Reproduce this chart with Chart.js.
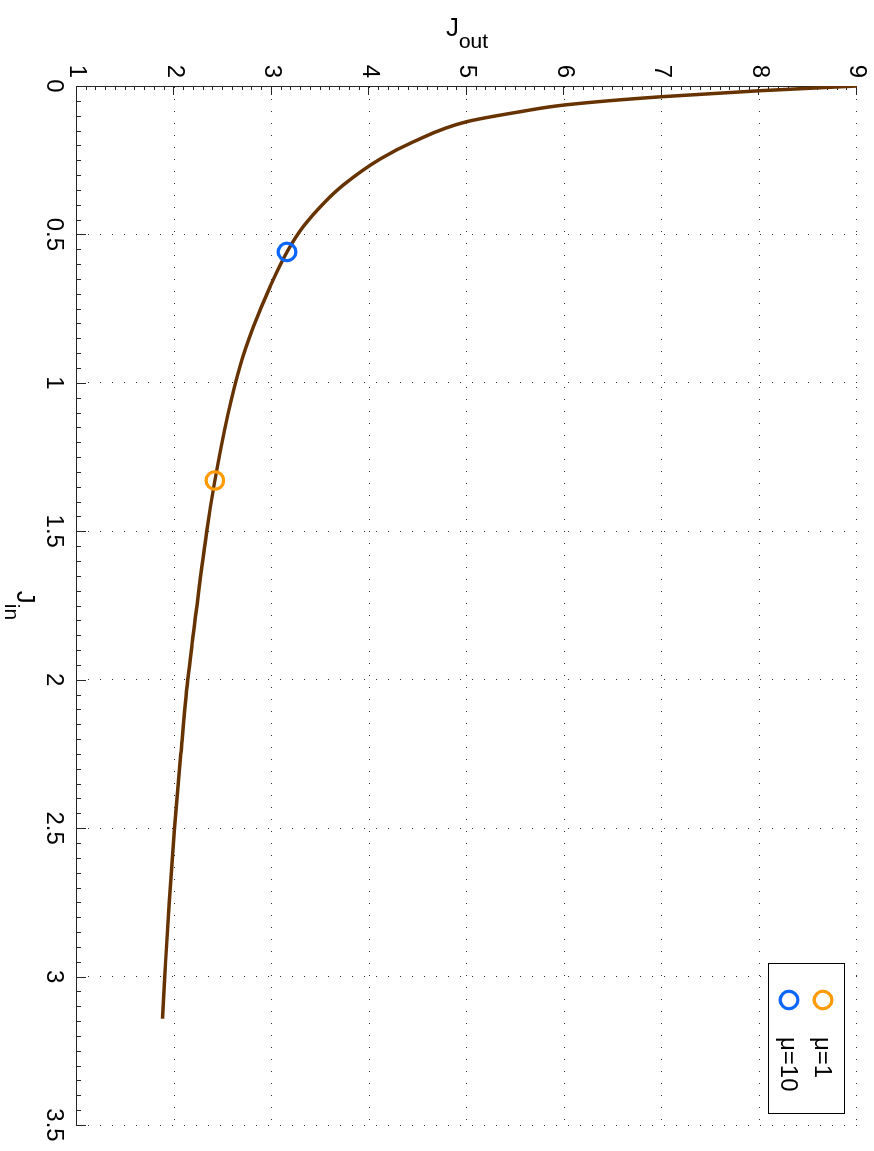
<!DOCTYPE html>
<html>
<head>
<meta charset="utf-8">
<script src="https://cdn.jsdelivr.net/npm/chart.js@4/dist/chart.umd.min.js"></script>
<style>
  html, body { margin: 0; padding: 0; background: #fff; overflow: hidden; }
  /* the figure is laid out landscape and turned a quarter turn clockwise */
  #wrap {
    position: absolute; left: 0; top: 0;
    width: 1151px; height: 874px;
    transform-origin: 0 0;
    transform: translateX(874px) rotate(90deg);
  }
  canvas { display: block; }
</style>
</head>
<body>
<div id="wrap"><canvas id="c" width="1151" height="874"></canvas></div>
<script>
// J_out as a function of J_in
const jIn  = [0, 0.016, 0.036, 0.064, 0.087, 0.12, 0.188, 0.246, 0.334, 0.395, 0.474, 0.559, 0.676, 0.811, 0.946, 1.103, 1.329, 1.5, 1.867, 2.0, 2.25, 2.5, 2.75, 3.0, 3.142];
const jOut = [9, 8.0, 7.0, 6.0, 5.54, 5.0, 4.45, 4.11, 3.73, 3.53, 3.32, 3.154, 2.98, 2.81, 2.67, 2.55, 2.414, 2.33, 2.185, 2.136, 2.065, 2.0, 1.945, 1.9, 1.876];

// operating points for two values of mu
const markerLabels = ['\u03bc=1', '\u03bc=10'];
const markerJin    = [1.329, 0.559];
const markerJout   = [2.414, 3.154];
const markerColors = ['#ff9a00', '#0a66ff'];

// axis ticks
const jInTicks  = [0, 0.5, 1, 1.5, 2, 2.5, 3, 3.5];
const jOutTicks = [1, 2, 3, 4, 5, 6, 7, 8, 9];

const FONT = '"Liberation Sans", Arial, Helvetica, sans-serif';
Chart.defaults.font.family = FONT;
Chart.defaults.color = '#000';

const curve = jIn.map((v, i) => ({ x: v, y: jOut[i] }));

const markerSets = markerLabels.map((lab, i) => ({
  label: lab,
  data: [{ x: markerJin[i], y: markerJout[i] }],
  showLine: false,
  pointStyle: 'circle',
  pointRadius: 8.8,
  pointHoverRadius: 8.8,
  pointBorderWidth: 3.2,
  borderColor: markerColors[i],
  backgroundColor: 'rgba(0,0,0,0)',
  order: 0
}));

// short inward tick marks on the two axis lines
const tickMarks = {
  id: 'tickMarks',
  beforeDatasetsDraw(chart) {
    const { ctx, chartArea: a, scales: { x, y } } = chart;
    ctx.save();
    ctx.strokeStyle = '#262626';
    ctx.lineWidth = 1;
    ctx.beginPath();
    for (let i = 0; i <= 70; i++) {
      const px = Math.round(x.getPixelForValue(i * 0.05)) + 0.5;
      const len = (i % 10 === 0) ? 9 : 4;
      ctx.moveTo(px, a.bottom); ctx.lineTo(px, a.bottom - len);
    }
    for (let i = 0; i <= 80; i++) {
      const py = Math.round(y.getPixelForValue(1 + i * 0.1)) + 0.5;
      const len = (i % 10 === 0) ? 9 : 4;
      ctx.moveTo(a.left, py); ctx.lineTo(a.left + len, py);
    }
    ctx.stroke();
    ctx.restore();
  }
};

function drawSubscripted(ctx, main, sub, cx, baseY) {
  const mainFont = '26px ' + FONT;
  const subFont = '21px ' + FONT;
  ctx.font = mainFont;
  const w1 = ctx.measureText(main).width;
  ctx.font = subFont;
  const w2 = ctx.measureText(sub).width;
  const x0 = cx - (w1 + w2) / 2;
  ctx.textAlign = 'left';
  ctx.textBaseline = 'alphabetic';
  ctx.font = mainFont;
  ctx.fillText(main, x0, baseY);
  ctx.font = subFont;
  ctx.fillText(sub, x0 + w1, baseY + 12);
}

// axis titles with subscripts
const axisTitles = {
  id: 'axisTitles',
  afterDraw(chart) {
    const { ctx, chartArea: a } = chart;
    ctx.save();
    ctx.fillStyle = '#000';
    drawSubscripted(ctx, 'J', 'in', (a.left + a.right) / 2, 857);
    ctx.translate(36, (a.top + a.bottom) / 2);
    ctx.rotate(-Math.PI / 2);
    drawSubscripted(ctx, 'J', 'out', 0, 0);
    ctx.restore();
  }
};

// boxed legend in the upper right corner of the plot
const boxLegend = {
  id: 'boxLegend',
  afterDraw(chart) {
    const { ctx, chartArea: a } = chart;
    const right = a.right - 12, top = a.top + 12;
    const w = 150, h = 76;
    const left = right - w;
    ctx.save();
    ctx.fillStyle = '#fff';
    ctx.fillRect(left, top, w, h);
    ctx.strokeStyle = '#000';
    ctx.lineWidth = 1;
    ctx.strokeRect(Math.round(left) + 0.5, Math.round(top) + 0.5, w, h);
    ctx.font = '24px ' + FONT;
    ctx.textAlign = 'left';
    ctx.textBaseline = 'middle';
    markerSets.forEach((ds, i) => {
      const cy = top + 22 + i * 34;
      ctx.beginPath();
      ctx.arc(left + 37, cy, 8.8, 0, Math.PI * 2);
      ctx.lineWidth = 3.2;
      ctx.strokeStyle = ds.borderColor;
      ctx.stroke();
      ctx.fillStyle = '#000';
      ctx.fillText(ds.label, left + 74, cy + 1);
    });
    ctx.restore();
  }
};

new Chart(document.getElementById('c'), {
  type: 'scatter',
  data: {
    datasets: [
      ...markerSets,
      {
        label: 'curve',
        data: curve,
        showLine: true,
        borderColor: '#663300',
        borderWidth: 3.5,
        pointRadius: 0,
        cubicInterpolationMode: 'monotone',
        order: 1
      }
    ]
  },
  options: {
    responsive: false,
    animation: false,
    devicePixelRatio: 1,
    layout: { padding: { top: 17, right: 26, left: 0, bottom: 0 } },
    plugins: { legend: { display: false }, tooltip: { enabled: false } },
    scales: {
      x: {
        type: 'linear',
        min: 0, max: 3.5,
        afterBuildTicks: s => { s.ticks = jInTicks.map(v => ({ value: v })); },
        afterFit: s => { s.height = 77; s.paddingLeft = 0; s.paddingRight = 0; },
        ticks: { font: { size: 24 }, color: '#000', padding: 9, maxRotation: 0, autoSkip: false,
                 callback: v => String(v) },
        grid: { color: '#333', lineWidth: 1, drawTicks: false },
        border: { display: true, color: '#262626', width: 1, dash: [1, 11] }
      },
      y: {
        type: 'linear',
        min: 1, max: 9,
        afterBuildTicks: s => { s.ticks = jOutTicks.map(v => ({ value: v })); },
        afterFit: s => { s.width = 86; s.paddingTop = 0; s.paddingBottom = 0; },
        ticks: { font: { size: 24 }, color: '#000', padding: 8, autoSkip: false,
                 callback: v => String(v) },
        grid: { color: '#333', lineWidth: 1, drawTicks: false },
        border: { display: true, color: '#262626', width: 1, dash: [1, 11] }
      }
    }
  },
  plugins: [tickMarks, axisTitles, boxLegend]
});
</script>
</body>
</html>
